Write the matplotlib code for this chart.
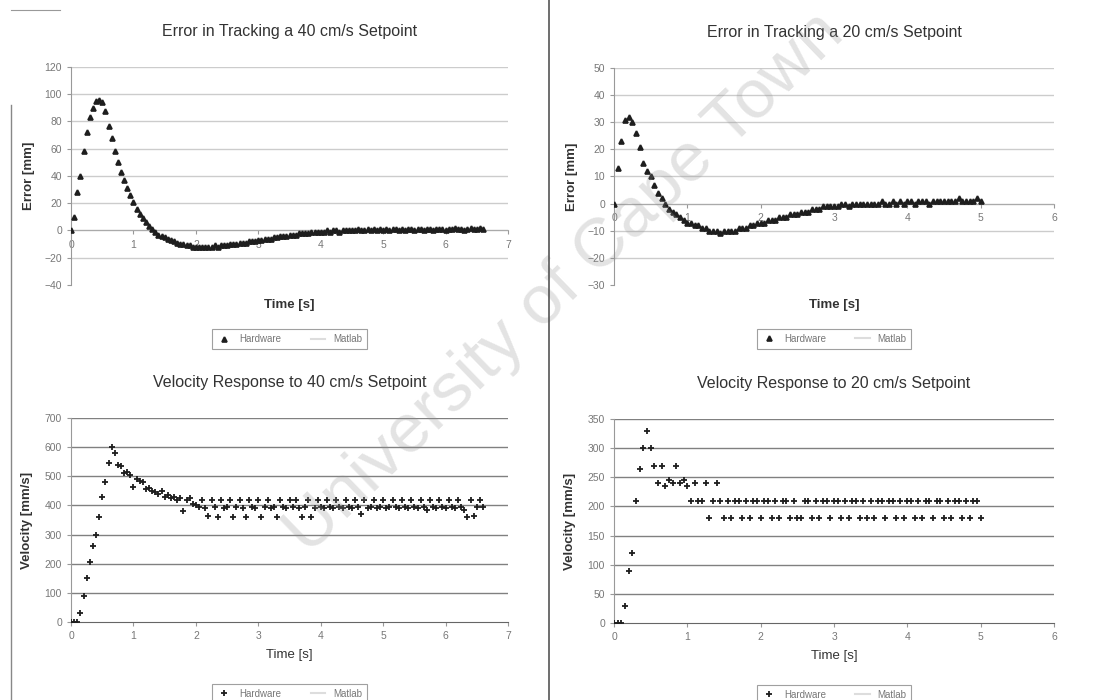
import numpy as np
import matplotlib.pyplot as plt
from matplotlib.lines import Line2D

plt.rcParams['font.family'] = ['Liberation Sans', 'DejaVu Sans']

# ---- data ----
# error while tracking 40 cm/s, sampled every 0.05 s (0 .. 6.6 s)
err40_t = np.arange(0, 6.6001, 0.05)
err40 = [0, 10, 28, 40, 58, 72, 83, 90, 95, 96,
         94, 88, 77, 68, 58, 50, 43, 37, 31, 26,
         21, 16, 12, 9, 6, 3, 1, -1, -3, -4,
         -5, -6, -7, -8, -9, -10, -10, -11, -11, -12,
         -12, -12, -12, -12, -12, -12, -11, -12, -11, -11,
         -11, -10, -10, -10, -9, -9, -9, -8, -8, -8,
         -7, -7, -6, -6, -6, -5, -5, -4, -4, -4,
         -3, -3, -3, -2, -2, -2, -2, -1, -1, -1,
         -1,
         -1, 0, -1, 0, 0, -1, 0, 0, 0, 0,
         0, 1, 0, 0, 1, 0, 1, 0, 1, 0,
         1, 0, 1, 1, 0, 1, 0, 1, 1, 0,
         1, 1, 0, 1, 1, 0, 1, 1, 1, 0,
         1, 1, 2, 1, 1, 0, 1, 2, 1, 1, 2, 1]

# error while tracking 20 cm/s, every 0.05 s (0 .. 5.0 s)
err20_t = np.arange(0, 5.0001, 0.05)
err20 = [0, 13, 23, 31, 32, 30, 26, 21, 15, 12,
         10, 7, 4, 2, 0, -2, -3, -4, -5, -6,
         -7, -7, -8, -8, -9, -9, -10, -10, -10, -11,
         -10, -10, -10, -10, -9, -9, -9, -8, -8, -7,
         -7, -7, -6, -6, -6, -5, -5, -5, -4, -4,
         -4, -3, -3, -3, -2, -2, -2, -1, -1, -1,
         -1,
         -1, 0, 0, -1, 0, 0, 0, 0, 0, 0,
         0, 0, 1, 0, 0, 1, 0, 1, 0, 1,
         1, 0, 1, 1, 1, 0, 1, 1, 1, 1,
         1, 1, 1, 2, 1, 1, 1, 1, 2, 1]

# velocity response to 40 cm/s, every 0.05 s (0 .. 6.6 s)
vel40_t = np.arange(0, 6.6001, 0.05)
vel40 = [0, 0, 0, 30, 90, 150, 205, 260, 300, 360,
         430, 480, 545, 600, 580, 540, 535, 510, 515, 505,
         465, 490, 485, 480, 455, 460, 450, 445, 440, 450,
         430, 435, 425, 430, 420, 425, 380, 420, 425, 405,
         400,
         395, 420, 390, 365, 420, 395, 360, 420, 390, 395,
         420, 360, 395, 420, 390, 360, 420, 395, 390, 420,
         360, 395, 420, 390, 395, 360, 420, 395, 390, 420,
         395, 420, 390, 360, 395, 420, 360, 390, 420, 395,
         390, 420, 395, 390, 420, 395, 390, 420, 395, 390,
         420, 395, 370, 420, 390, 395, 420, 390, 395, 420,
         390, 395, 420, 395, 390, 420, 395, 390, 420, 395,
         390, 420, 395, 385, 420, 395, 390, 420, 395, 390,
         420, 395, 390, 420, 395, 385, 360, 420, 365, 395, 420, 395]

# velocity response to 20 cm/s, every 0.05 s (0 .. 5.0 s)
vel20_t = np.arange(0, 5.0001, 0.05)
vel20 = [0, 0, 0, 30, 90, 120, 210, 265, 300, 330,
         300, 270, 240, 270, 235, 245, 240, 270, 240, 245,
         235, 210, 240, 210, 210, 240, 180, 210, 240, 210,
         180,
         210, 180, 210, 210, 180, 210, 180, 210, 210, 180,
         210, 210, 180, 210, 180, 210, 210, 180, 210, 180,
         180, 210, 210, 180, 210, 180, 210, 210, 180, 210,
         210, 180, 210, 180, 210, 210, 180, 210, 180, 210,
         180, 210, 210, 180, 210, 210, 180, 210, 180, 210,
         210, 180, 210, 180, 210, 210, 180, 210, 210, 180,
         210, 180, 210, 210, 180, 210, 180, 210, 210, 180]

err40_ticks = [-40, -20, 0, 20, 40, 60, 80, 100, 120]
err20_ticks = [-30, -20, -10, 0, 10, 20, 30, 40, 50]
vel40_ticks = [0, 100, 200, 300, 400, 500, 600, 700]
vel20_ticks = [0, 50, 100, 150, 200, 250, 300, 350]


def panel(rect, t, y, title, ylabel, xlabel_bold, yticks, xmax, marker, msize,
          grid_col, top_row):
    ax = fig.add_axes(rect)
    ax.plot(t, y, ls='none', marker=marker, ms=msize, mew=1.3,
            color='#1e1e1e', label='Hardware', zorder=3)
    ax.plot([], [], color='#dddddd', lw=1.5, label='Matlab')
    ax.set_xlim(0, xmax)
    ax.set_ylim(yticks[0], yticks[-1])
    ax.set_yticks(yticks)
    ax.set_xticks(range(0, xmax + 1))
    for v in yticks[1:]:
        ax.axhline(v, color=grid_col, lw=1.0, zorder=1)
    for s in ['top', 'right']:
        ax.spines[s].set_visible(False)
    ax.spines['left'].set_color('#999999')
    ax.spines['bottom'].set_position(('data', 0))
    ax.spines['bottom'].set_color('#aaaaaa' if top_row else '#666666')
    ax.tick_params(axis='both', labelsize=7.5, colors='#999999',
                   labelcolor='#777777', length=3)
    ax.set_title(title, fontsize=11.5, color='#333333', pad=22)
    ax.set_xlabel('Time [s]', fontsize=9.5, color='#333333',
                  fontweight='bold' if xlabel_bold else 'normal')
    ax.set_ylabel(ylabel, fontsize=9.5, color='#333333', fontweight='bold')
    ax.patch.set_alpha(0)
    if top_row:
        ax.xaxis.set_label_coords(0.5, -0.065)
        ax.yaxis.set_label_coords(-0.082, 0.5)
        leg = ax.legend(loc='upper center', bbox_to_anchor=(0.5, -0.18), ncol=2,
                        fontsize=7, frameon=True, fancybox=False,
                        handlelength=1.5, columnspacing=3.0, borderpad=0.5)
    else:
        ax.xaxis.set_label_coords(0.5, -0.13)
        ax.yaxis.set_label_coords(-0.087, 0.5)
        leg = ax.legend(loc='upper center', bbox_to_anchor=(0.5, -0.28), ncol=2,
                        fontsize=7, frameon=True, fancybox=False,
                        handlelength=1.5, columnspacing=3.0, borderpad=0.5)
    leg.get_frame().set_edgecolor('#888888')
    leg.get_frame().set_linewidth(0.8)
    for txt in leg.get_texts():
        txt.set_color('#777777')
    return ax


fig = plt.figure(figsize=(10.93, 7.0), dpi=100)

panel([0.0650, 0.5929, 0.3998, 0.3114], err40_t, err40,
      'Error in Tracking a 40 cm/s Setpoint', 'Error [mm]', True,
      err40_ticks, 7, '^', 3.5, '#cccccc', True)
panel([0.5618, 0.5929, 0.4026, 0.3100], err20_t, err20,
      'Error in Tracking a 20 cm/s Setpoint', 'Error [mm]', True,
      err20_ticks, 6, '^', 3.5, '#cccccc', True)
panel([0.0650, 0.1114, 0.3998, 0.2914], vel40_t, vel40,
      'Velocity Response to 40 cm/s Setpoint', 'Velocity [mm/s]', False,
      vel40_ticks, 7, '+', 4.5, '#808080', False)
panel([0.5618, 0.1100, 0.4026, 0.2914], vel20_t, vel20,
      'Velocity Response to 20 cm/s Setpoint', 'Velocity [mm/s]', False,
      vel20_ticks, 6, '+', 4.5, '#808080', False)

# chart-object borders from the scan
fig.add_artist(Line2D([0.502, 0.502], [0.0, 1.0], color='#555555', lw=1.2))
fig.add_artist(Line2D([0.010, 0.010], [0.0, 0.85], color='#888888', lw=1.0))
fig.add_artist(Line2D([0.010, 0.055], [0.986, 0.986], color='#999999', lw=0.8))

# watermark
fig.text(0.517, 0.595, 'University of Cape Town', fontsize=50, color='#909090',
         alpha=0.25, rotation=44, ha='center', va='center', zorder=0)

fig.savefig('out.png', dpi=100)
